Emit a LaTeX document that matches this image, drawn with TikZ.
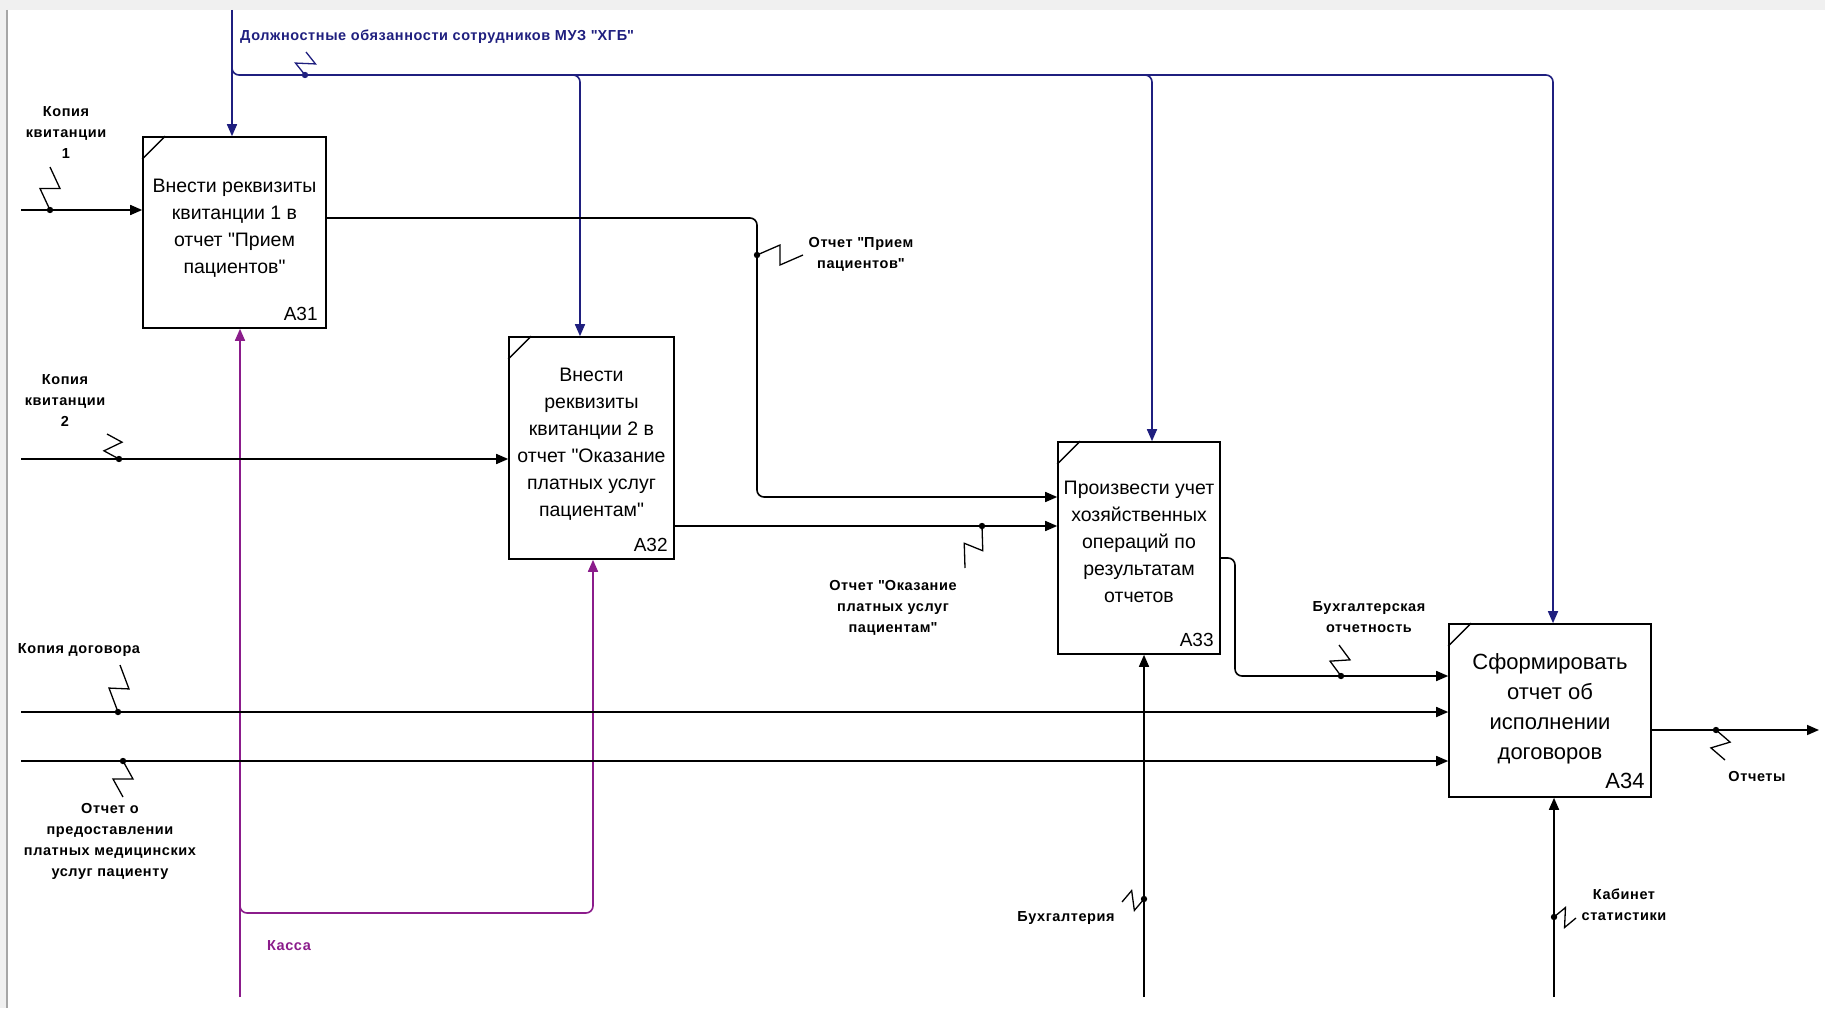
\documentclass[tikz,border=0pt]{standalone}
\usepackage{fontspec}
\setmainfont{Liberation Sans}
\usepackage{tikz}
\usetikzlibrary{arrows.meta, calc, positioning}

\definecolor{ctrlblue}{HTML}{1F1F7F}
\definecolor{kassa}{HTML}{8B1C8B}

\newcommand{\q}{\textquotedbl}

\tikzset{
  fn/.style={draw, line width=1.6pt, align=center, inner sep=0pt, font=\fontsize{19.5}{27}\selectfont},
  fnbig/.style={fn, font=\fontsize{22}{30}\selectfont},
  num/.style={anchor=base east, inner sep=0pt, font=\fontsize{19}{19}\selectfont},
  arr/.style={line width=1.6pt, -{Triangle[length=12pt, width=10pt]}},
  lbl/.style={align=center, inner sep=0pt, font=\bfseries\fontsize{14.5}{21}\selectfont\addfontfeatures{LetterSpace=4}},
  zz/.style={line width=1.3pt},
}

\newcommand{\zigzag}[3][black]{%
  \draw[zz, #1] (#3) -- ($(#3)!0.5!(#2)!10pt!90:(#2)$) -- ($(#3)!0.5!(#2)!10pt!-90:(#2)$) -- (#2);
  \fill[#1] (#2) circle (3.2pt);
}

\begin{document}
\begin{tikzpicture}[x=1pt, y=-1pt]

  \fill[gray!12] (0,0) rectangle (1825,1008);
  \fill[white] (7,10) rectangle (1825,1008);
  \draw[gray!70, line width=1.2pt] (7,10) -- (7,1008);

  \node[fn, minimum width=183, minimum height=191] (A31) at (234.5,232.5)
    {Внести реквизиты\\квитанции 1 в\\отчет \q Прием\\пациентов\q\\[-15pt]};
  \node[fn, minimum width=165, minimum height=222] (A32) at (591.5,448)
    {Внести\\реквизиты\\квитанции 2 в\\отчет \q Оказание\\платных услуг\\пациентам\q\\[-15pt]};
  \node[fn, minimum width=162, minimum height=212] (A33) at (1139,548)
    {Произвести учет\\хозяйственных\\операций по\\результатам\\отчетов\\[-14pt]};
  \node[fnbig, minimum width=202, minimum height=173] (A34) at (1550,710.5)
    {Сформировать\\отчет об\\исполнении\\договоров\\[-22pt]};

  \foreach \b in {A31,A32,A33,A34}
    \draw[line width=1.4pt] ($(\b.north west)+(0,23)$) -- ($(\b.north west)+(23,0)$);

  \node[num] (n31) at ($(A31.south east)+(-9,-8)$) {A31};
  \node[num] (n32) at ($(A32.south east)+(-7,-8)$) {A32};
  \node[num] (n33) at ($(A33.south east)+(-7,-8)$) {A33};
  \node[num, font=\fontsize{22}{22}\selectfont] (n34) at ($(A34.south east)+(-7,-9)$) {A34};

  % control
  \coordinate (ctl) at (232,10);
  \coordinate (c2) at (580,75);
  \coordinate (c3) at (1152,75);
  \coordinate (c4) at (1553,75);
  \draw[arr, ctrlblue] (ctl) -- (ctl |- A31.north);
  \draw[arr, ctrlblue, rounded corners=7pt] (232,60) -- (232,75) -- (c4) -- (c4 |- A34.north);
  \draw[arr, ctrlblue, rounded corners=7pt] ($(c2)+(-10,0)$) -- (c2) -- (c2 |- A32.north);
  \draw[arr, ctrlblue, rounded corners=7pt] ($(c3)+(-10,0)$) -- (c3) -- (c3 |- A33.north);

  % mechanisms
  \coordinate (mk) at (240,997);
  \coordinate (mk2) at (593,913);
  \draw[arr, kassa] (mk) -- (mk |- A31.south);
  \draw[arr, kassa, rounded corners=7pt] (240,900) -- (240,913) -- (mk2) -- (mk2 |- A32.south);
  \coordinate (m1) at (1144,997);
  \coordinate (m2) at (1554,997);
  \draw[arr] (m1) -- (m1 |- A33.south);
  \draw[arr] (m2) -- (m2 |- A34.south);

  % inputs
  \coordinate (in1) at (21,210);
  \coordinate (in2) at (21,459);
  \coordinate (in3) at (21,712);
  \coordinate (in4) at (21,761);
  \draw[arr] (in1) -- (in1 -| A31.west);
  \draw[arr] (in2) -- (in2 -| A32.west);
  \draw[arr] (in3) -- (in3 -| A34.west);
  \draw[arr] (in4) -- (in4 -| A34.west);

  % outputs
  \coordinate (out) at (1819,730);
  \draw[arr, rounded corners=7pt] (A31.east |- 0,218) -- (757,218) -- (757,497) -- (A33.west |- 0,497);
  \draw[arr] (A32.east |- 0,526) -- (A33.west |- 0,526);
  \draw[arr, rounded corners=7pt] (A33.east |- 0,558) -- (1235,558) -- (1235,676) -- (A34.west |- 0,676);
  \draw[arr] (A34.east |- out) -- (out);

  % labels
  \node[lbl, ctrlblue, anchor=west] (lctl) at (240,37) {Должностные обязанности сотрудников МУЗ \q ХГБ\q};
  \node[lbl] (lkv1) at (66,133) {Копия\\квитанции\\1};
  \node[lbl] (lkv2) at (65,401) {Копия\\квитанции\\2};
  \node[lbl] (lkd) at (79,650) {Копия договора};
  \node[lbl] (lotch) at (110,841) {Отчет о\\предоставлении\\платных медицинских\\услуг пациенту};
  \node[lbl, kassa] (lkassa) at (289,946) {Касса};
  \node[lbl] (lpr) at (861,254) {Отчет \q Прием\\пациентов\q};
  \node[lbl] (lok) at (893,608) {Отчет \q Оказание\\платных услуг\\пациентам\q};
  \node[lbl] (lbo) at (1369,617) {Бухгалтерская\\отчетность};
  \node[lbl] (lres) at (1757,776) {Отчеты};
  \node[lbl] (lbuh) at (1066,918) {Бухгалтерия};
  \node[lbl] (lkab) at (1624,905) {Кабинет\\статистики};

  % squiggles
  \coordinate (z0) at (306,52);   \coordinate (d0) at (305,75);
  \coordinate (z1) at (50,167);   \coordinate (d1) at (50,210);
  \coordinate (z2) at (107,434);  \coordinate (d2) at (119,459);
  \coordinate (z3) at (120,665);  \coordinate (d3) at (118,712);
  \coordinate (z4) at (123,797);  \coordinate (d4) at (123,761);
  \coordinate (z5) at (803,255);  \coordinate (d5) at (757,255);
  \coordinate (z6) at (965,568);  \coordinate (d6) at (982,526);
  \coordinate (z7) at (1339,645); \coordinate (d7) at (1341,676);
  \coordinate (z8) at (1725,760); \coordinate (d8) at (1716,730);
  \coordinate (z9) at (1122,902); \coordinate (d9) at (1144,899);
  \coordinate (z10) at (1576,918); \coordinate (d10) at (1554,917);
  \zigzag[ctrlblue]{d0}{z0}
  \foreach \i in {1,...,10} {\zigzag{d\i}{z\i}}

\end{tikzpicture}
\end{document}
